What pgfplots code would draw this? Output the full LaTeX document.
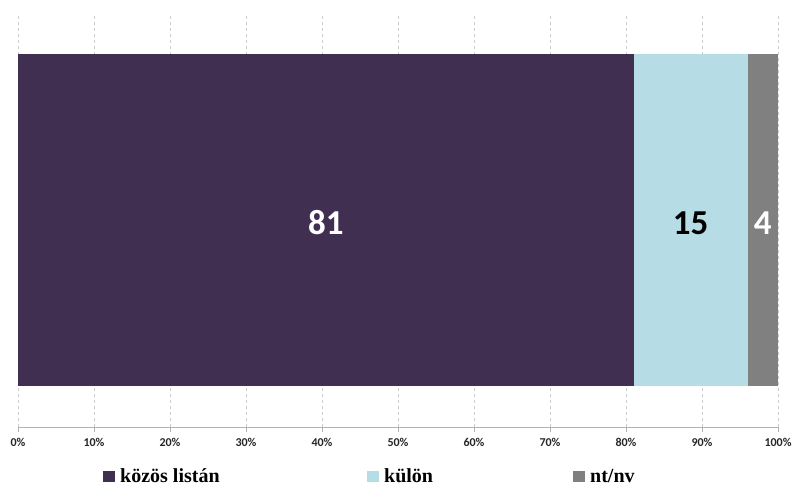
\documentclass[border=0pt]{standalone}
\usepackage{pgfplots}
\pgfplotsset{compat=1.18}
\usepackage{fontspec}
\setmainfont{Liberation Serif}
\newfontfamily\lblfont{Carlito}
\definecolor{cPurple}{RGB}{64,47,80}
\definecolor{cBlue}{RGB}{182,220,230}
\definecolor{cGrey}{RGB}{128,128,128}
\begin{document}
\begin{tikzpicture}
\begin{axis}[
  at={(0,0)}, anchor=south west,
  scale only axis, width=760pt, height=414pt,
  xbar stacked, bar width=0.8,
  xmin=0, xmax=100, ymin=0, ymax=1,
  axis x line=bottom, axis y line=none,
  axis line style={draw=gray!60, -},
  xtick={0,10,...,100},
  xticklabel={\pgfmathprintnumber{\tick}\%},
  /pgf/number format/assume math mode=true,
  xticklabel style={font=\lblfont\bfseries\fontsize{12}{13}\selectfont, text=black!85, yshift=-3pt},
  tick align=outside, major tick length=5pt,
  tick style={draw=gray!60},
  xmajorgrids, grid style={dashed, draw=gray!40},
  ytick=\empty,
  legend style={at={(0.1118,-0.12)}, anchor=west, draw=none, legend columns=3,
    font=\bfseries\fontsize{20}{20}\selectfont, inner sep=0pt,
    /tikz/every odd column/.append style={column sep=3pt},
    /tikz/every even column/.append style={column sep=0pt}},
  legend image code/.code={\fill[#1] (0pt,-5.5pt) rectangle (12pt,6pt);},
  clip=false,
]
\addplot[fill=cPurple, draw=none] coordinates {(81,0.5)};
\addlegendentry{\makebox[245pt][l]{közös listán}}
\addplot[fill=cBlue, draw=none] coordinates {(15,0.5)};
\addlegendentry{\makebox[187pt][l]{külön}}
\addplot[fill=cGrey, draw=none] coordinates {(4,0.5)};
\addlegendentry{nt/nv}
\end{axis}
\node[font=\lblfont\bfseries\fontsize{35}{36}\selectfont, text=white] at (307.8pt,204pt) {81};
\node[font=\lblfont\bfseries\fontsize{35}{36}\selectfont, text=black] at (672.6pt,204pt) {15};
\node[font=\lblfont\bfseries\fontsize{35}{36}\selectfont, text=white] at (744.8pt,204pt) {4};
\pgfresetboundingbox
\path[use as bounding box] (-18pt,-60pt) rectangle (778pt,427pt);
\end{tikzpicture}
\end{document}
